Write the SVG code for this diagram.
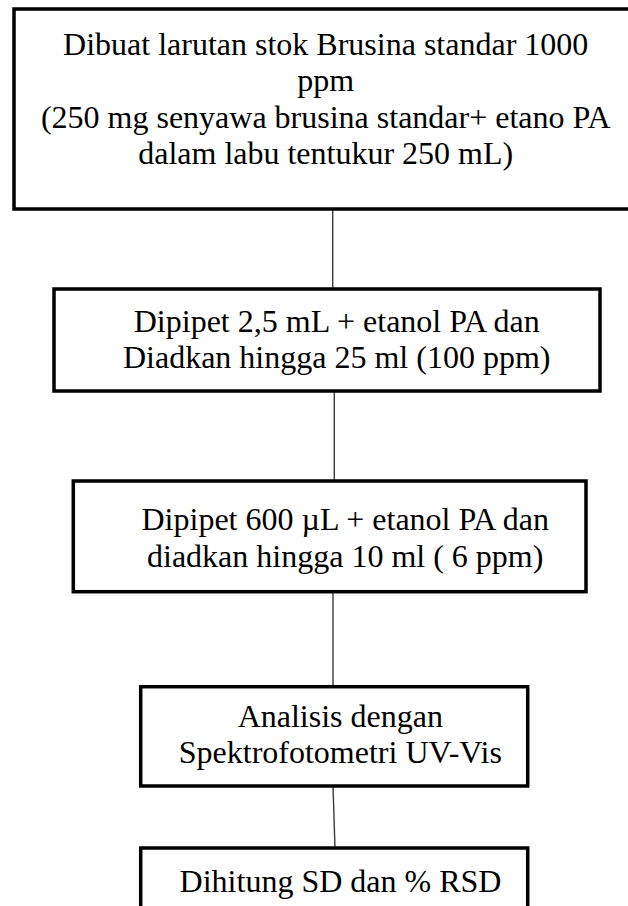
<svg xmlns="http://www.w3.org/2000/svg" width="628" height="906" viewBox="0 0 628 906">
<style>
.box{fill:#fff;stroke:#000;stroke-width:3.5}
.t{font-family:"Liberation Serif","DejaVu Serif",serif;font-size:32px;fill:#000;text-anchor:middle}
.c{stroke:#3a3a3a;stroke-width:1.4;fill:none}
</style>
<rect width="628" height="906" fill="#fff"/>
<g id="connectors">
<line class="c" x1="332.7" y1="210" x2="332.7" y2="289"/>
<line class="c" x1="334.3" y1="391" x2="334.3" y2="481"/>
<line class="c" x1="333" y1="592" x2="333" y2="687"/>
<line class="c" x1="333" y1="786" x2="335" y2="848"/>
</g>
<g id="n1">
<rect class="box" x="14" y="9" width="640" height="200"/>
<text class="t" x="325.7" y="54.5">Dibuat larutan stok Brusina standar 1000</text>
<text class="t" x="325.7" y="91">ppm</text>
<text class="t" x="325.7" y="127.7">(250 mg senyawa brusina standar+ etano PA</text>
<text class="t" x="325.7" y="164.3">dalam labu tentukur 250 mL)</text>
</g>
<g id="n2">
<rect class="box" x="54" y="289" width="546" height="102"/>
<text class="t" x="336.7" y="331.7">Dipipet 2,5 mL + etanol PA dan</text>
<text class="t" x="336.7" y="368.3">Diadkan hingga 25 ml (100 ppm)</text>
</g>
<g id="n3">
<rect class="box" x="73.3" y="481" width="512.7" height="110.7"/>
<text class="t" x="345.2" y="530">Dipipet 600 µL + etanol PA dan</text>
<text class="t" x="345.2" y="566.6">diadkan hingga 10 ml ( 6 ppm)</text>
</g>
<g id="n4">
<rect class="box" x="140.7" y="686.7" width="387" height="99.3"/>
<text class="t" x="340.3" y="726.7">Analisis dengan</text>
<text class="t" x="340.3" y="763.3">Spektrofotometri UV-Vis</text>
</g>
<g id="n5">
<rect class="box" x="140.7" y="848" width="387" height="80"/>
<text class="t" x="340.5" y="892">Dihitung SD dan % RSD</text>
</g>
</svg>
